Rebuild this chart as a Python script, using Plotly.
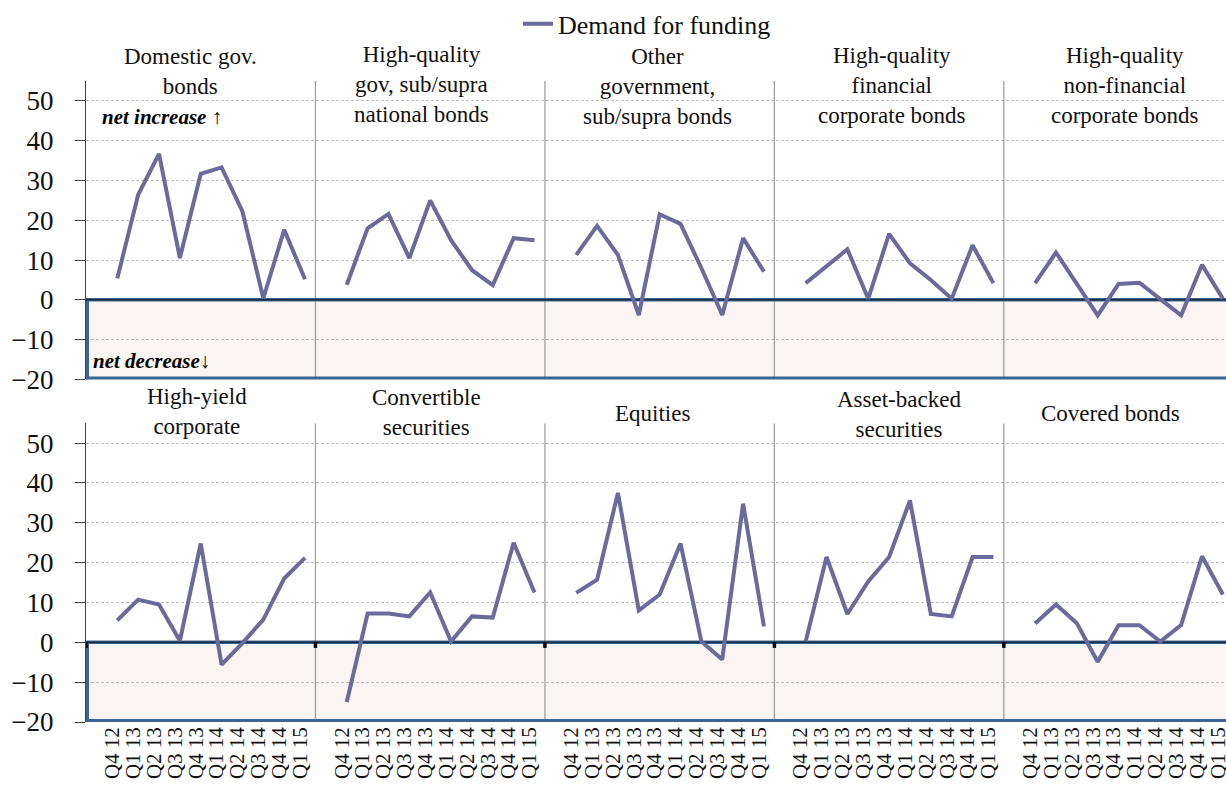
import plotly.graph_objects as go

# ---------------- data ----------------
quarters = ["Q4 12", "Q1 13", "Q2 13", "Q3 13", "Q4 13",
            "Q1 14", "Q2 14", "Q3 14", "Q4 14", "Q1 15"]

top_titles = ["Domestic gov.<br>bonds",
              "High-quality<br>gov, sub/supra<br>national bonds",
              "Other<br>government,<br>sub/supra bonds",
              "High-quality<br>financial<br>corporate bonds",
              "High-quality<br>non-financial<br>corporate bonds"]
bottom_titles = ["High-yield<br>corporate",
                 "Convertible<br>securities",
                 "Equities",
                 "Asset-backed<br>securities",
                 "Covered bonds"]

domestic_gov = [5.4, 26.4, 36.7, 10.5, 31.7, 33.3, 22.2, 0.4, 17.6, 5.2]
hq_gov_supra = [3.8, 18.0, 21.6, 10.5, 25.0, 15.0, 7.5, 3.7, 15.5, 15.0]
other_gov = [11.3, 18.6, 11.3, -3.8, 21.5, 19.1, 8.0, -3.8, 15.5, 7.1]
hq_fin_corp = [4.2, 8.5, 12.7, 0.3, 16.6, 9.2, 5.0, 0.3, 13.7, 4.2]
hq_nonfin_corp = [4.2, 11.9, 4.0, -3.9, 4.0, 4.3, 0.2, -3.9, 8.8, 0.3]

high_yield = [5.5, 10.7, 9.5, 0.4, 24.8, -5.6, -0.2, 5.7, 16.0, 21.2]
convertible = [-15.0, 7.2, 7.2, 6.5, 12.5, 0.2, 6.5, 6.2, 25.0, 12.5]
equities = [12.4, 15.7, 37.5, 8.0, 12.0, 24.8, 0.2, -4.3, 34.8, 4.0]
asset_backed = [0.2, 21.4, 7.1, 15.3, 21.4, 35.6, 7.1, 6.5, 21.4, 21.4]
covered = [4.7, 9.5, 4.8, -4.9, 4.3, 4.3, 0.2, 4.3, 21.6, 12.0]

top_series = [domestic_gov, hq_gov_supra, other_gov, hq_fin_corp, hq_nonfin_corp]
bottom_series = [high_yield, convertible, equities, asset_backed, covered]

series_name = "Demand for funding"
y_ticks = [-20, -10, 0, 10, 20, 30, 40, 50]

# ---------------- layout helpers ----------------
W, H = 1226, 787
L, T = 86, 81
B = H - 721.7
PW, PH = W - L, H - T - B
SLOT = 20.86
SLOTS_PER_PANEL = 11
XMAX = PW / SLOT - 0.5

def pxx(px):
    return (px - L) / PW

def pxy(py):
    return (H - B - py) / PH

FONT = "Liberation Serif, serif"
LINE_COLOR = "#6A6A9C"

row_domains = [[pxy(379.3), 1.0], [0.0, pxy(423.0)]]

fig = go.Figure()

first = True
for r, group in enumerate([top_series, bottom_series]):
    xa = "x" if r == 0 else "x2"
    ya = "y" if r == 0 else "y2"
    for k, vals in enumerate(group):
        xs = [SLOTS_PER_PANEL * k + 1 + i for i in range(len(vals))]
        fig.add_trace(go.Scatter(
            x=xs, y=vals, xaxis=xa, yaxis=ya, mode="lines",
            line=dict(color=LINE_COLOR, width=4),
            name=series_name, showlegend=first, hoverinfo="skip"))
        first = False

tickvals = [SLOTS_PER_PANEL * k + 1 + i for k in range(5) for i in range(len(quarters))]
ticktext = quarters * 5

yaxis_common = dict(
    range=[-20, 55], tickvals=y_ticks, ticks="outside", ticklen=10,
    tickcolor="#404040", tickwidth=1.2, showline=True, linecolor="#404040",
    linewidth=1.2, showgrid=True, gridcolor="#BFBFBF", gridwidth=1,
    griddash="3px,2px", zeroline=False,
    tickfont=dict(family=FONT, size=27, color="#111"), ticklabelstandoff=16,
)

fig.update_layout(
    width=W, height=H,
    margin=dict(l=L, r=0, t=T, b=B, autoexpand=False),
    paper_bgcolor="white", plot_bgcolor="white",
    font=dict(family=FONT, color="#111"),
    xaxis=dict(domain=[0, 1], range=[-0.5, XMAX], anchor="y",
               showticklabels=False, showgrid=False, zeroline=False, ticks=""),
    xaxis2=dict(domain=[0, 1], range=[-0.5, XMAX], anchor="y2",
                tickvals=tickvals, ticktext=ticktext, tickangle=-90,
                tickfont=dict(family=FONT, size=21, color="#111"),
                showgrid=False, zeroline=False, ticks="", ticklabelshift=-5,
                ticklabeloverflow="allow"),
    yaxis=dict(domain=row_domains[0], anchor="x", **yaxis_common),
    yaxis2=dict(domain=row_domains[1], anchor="x2", **yaxis_common),
    legend=dict(x=pxx(518), y=pxy(24), xanchor="left", yanchor="middle",
                orientation="h", font=dict(family=FONT, size=26, color="#111"),
                bgcolor="rgba(0,0,0,0)"),
    showlegend=True,
)

BLUE = "#3A6591"
shapes = []
for r in range(2):
    xr = "x" if r == 0 else "x2"
    yr = "y" if r == 0 else "y2"
    shapes.append(dict(type="rect", xref=xr, yref=yr, x0=-0.5, x1=XMAX + 2,
                       y0=-20, y1=0, fillcolor="#FAF5F2", line=dict(width=0),
                       layer="below"))
    for k in range(1, 5):
        xd = SLOTS_PER_PANEL * k - 0.5
        shapes.append(dict(type="line", xref=xr, yref=yr, x0=xd, x1=xd,
                           y0=-20, y1=55, line=dict(color="#A0A0A0", width=1.3),
                           layer="between"))
    # border of the negative area (edges on the plot boundary are half clipped)
    shapes.append(dict(type="line", xref=xr, yref=yr, x0=-0.5, x1=XMAX + 2,
                       y0=-20, y1=-20, line=dict(color=BLUE, width=6), layer="between"))
    shapes.append(dict(type="line", xref=xr, yref=yr, x0=-0.5, x1=-0.5,
                       y0=-20, y1=0, line=dict(color=BLUE, width=6), layer="between"))
    shapes.append(dict(type="line", xref=xr, yref=yr, x0=-0.5, x1=XMAX + 2,
                       y0=0, y1=0, line=dict(color=BLUE, width=3.5), layer="between"))
    shapes.append(dict(type="line", xref=xr, yref=yr, x0=-0.5, x1=XMAX + 2,
                       y0=0, y1=0, line=dict(color="#1B2C40", width=1.5),
                       layer="between"))
    if r == 1:
        for k in range(0, 5):
            xd = SLOTS_PER_PANEL * k - 0.5
            shapes.append(dict(type="line", xref=xr, yref=yr, x0=xd, x1=xd,
                               y0=0, y1=-1.4, line=dict(color="#000", width=3.5),
                               layer="above"))
fig.update_layout(shapes=shapes)

annotations = []
top_x = [190, 422, 657, 892, 1125]
top_y = [42, 40, 42, 41, 41]
bot_x = [197, 426, 652, 899, 1110]
bot_y = [382, 383, 399, 385, 399]
for t, xp, yp in zip(top_titles, top_x, top_y):
    annotations.append(dict(text=t, xref="paper", yref="paper", x=pxx(xp), y=pxy(yp),
                            xanchor="center", yanchor="top", showarrow=False,
                            font=dict(family=FONT, size=23, color="#111")))
for t, xp, yp in zip(bottom_titles, bot_x, bot_y):
    annotations.append(dict(text=t, xref="paper", yref="paper", x=pxx(xp), y=pxy(yp),
                            xanchor="center", yanchor="top", showarrow=False,
                            font=dict(family=FONT, size=23, color="#111")))
annotations.append(dict(text="<b><i>net increase</i></b> \u2191", xref="paper", yref="paper",
                        x=pxx(100), y=pxy(117), xanchor="left", yanchor="middle",
                        showarrow=False, font=dict(family=FONT, size=21, color="#000")))
annotations.append(dict(text="<b><i>net decrease</i></b>\u2193", xref="paper", yref="paper",
                        x=pxx(91), y=pxy(361), xanchor="left", yanchor="middle",
                        showarrow=False, font=dict(family=FONT, size=21, color="#000")))
fig.update_layout(annotations=annotations)

# remove the default 8px page margin so the figure fills the window exactly
fig.write_html("out.html",
               config={"displayModeBar": False},
               post_script="document.body.style.margin='0';document.body.style.overflow='hidden';")
